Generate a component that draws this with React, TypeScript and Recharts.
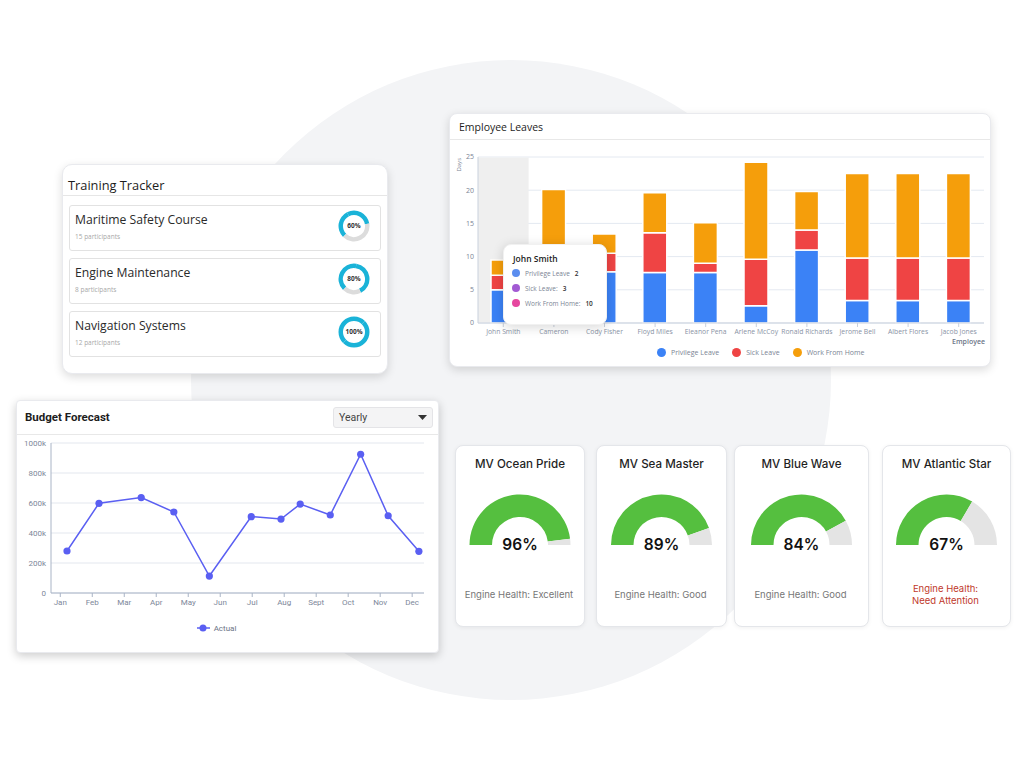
import React from 'react';
import {
  BarChart, Bar, XAxis, YAxis, CartesianGrid, Tooltip, Legend,
  LineChart, Line, PieChart, Pie, Cell,
} from 'recharts';

// ---------- Employee Leaves ----------
const employees = ['John Smith', 'Cameron', 'Cody Fisher', 'Floyd Miles', 'Eleanor Pena', 'Arlene McCoy', 'Ronald Richards', 'Jerome Bell', 'Albert Flores', 'Jacob Jones'];
const privilegeLeave = [5, 7.5, 7.7, 7.6, 7.6, 2.6, 11, 3.4, 3.4, 3.4];
const sickLeave = [2.2, 3.5, 2.8, 6, 1.4, 7, 3, 6.4, 6.4, 6.4];
const workFromHome = [2.3, 9.1, 2.9, 6, 6.1, 14.6, 5.8, 12.7, 12.7, 12.7];
const leaveSeries = ['Privilege Leave', 'Sick Leave', 'Work From Home'];
const leaveColors = ['#3b82f6', '#ef4444', '#f59e0b'];
const leaveTicks = [0, 5, 10, 15, 20, 25];
const tooltipLabels = ['Privilege Leave', 'Sick Leave:', 'Work From Home:'];
const tooltipValues = [2, 3, 10];
const tooltipColors = ['#5b8def', '#a25ad3', '#e6479f'];

// ---------- Budget Forecast ----------
const months = ['Jan', 'Feb', 'Mar', 'Apr', 'May', 'Jun', 'Jul', 'Aug', 'Sept', 'Oct', 'Nov', 'Dec'];
const budgetMonthPos = [0.21, 1.21, 2.53, 3.55, 4.66, 5.97, 6.9, 7.5, 8.44, 9.39, 10.25, 11.21];
const budgetActual = [280, 598, 636, 540, 113, 509, 493, 593, 520, 925, 515, 278];
const budgetTicks = [0, 200, 400, 600, 800, 1000];

// ---------- Training Tracker ----------
const trainings = ['Maritime Safety Course', 'Engine Maintenance', 'Navigation Systems'];
const trainingParticipants = [15, 8, 12];
const trainingProgress = [60, 80, 100];

// ---------- Engine health ----------
const vessels = ['MV Ocean Pride', 'MV Sea Master', 'MV Blue Wave', 'MV Atlantic Star'];
const engineHealth = [96, 89, 84, 67];
const healthStatus = ['Engine Health: Excellent', 'Engine Health: Good', 'Engine Health: Good', 'Engine Health: Need Attention'];
const healthAlert = [false, false, false, true];

const FP = '"Open Sans", sans-serif';
const FR = 'Roboto, sans-serif';
const FD = 'Inter, sans-serif';

const leaveData = employees.map((name, i) => ({
  name,
  [leaveSeries[0]]: privilegeLeave[i],
  [leaveSeries[1]]: sickLeave[i],
  [leaveSeries[2]]: workFromHome[i],
}));
const budgetData = budgetMonthPos.map((x, i) => ({ x, Actual: budgetActual[i] }));

const cardStyle: React.CSSProperties = {
  position: 'absolute', background: '#fff', borderRadius: 8,
  border: '1px solid #e9eaee', boxSizing: 'border-box',
  boxShadow: '0 3px 10px rgba(0,0,0,0.14)',
};

const ZERO = { top: 0, right: 0, bottom: 0, left: 0 };

function EmpTooltip({ label }: any) {
  return (
    <div style={{ width: 104, height: 81, background: '#fff', borderRadius: 8, boxShadow: '0 2px 12px rgba(0,0,0,0.16)', fontFamily: FP, position: 'relative', boxSizing: 'border-box', border: '1px solid #f1f1f1' }}>
      <div style={{ position: 'absolute', left: 9, top: 7, fontSize: 8.5, fontWeight: 600, color: '#222', lineHeight: '13px' }}>{label}</div>
      {tooltipLabels.map((l, i) => (
        <div key={l} style={{ position: 'absolute', left: 8, top: 23 + i * 15, height: 10, display: 'flex', alignItems: 'center', fontSize: 6.5, color: '#7b8494', whiteSpace: 'nowrap' }}>
          <span style={{ width: 8, height: 8, borderRadius: 4, background: tooltipColors[i], marginRight: 5, display: 'inline-block' }} />
          <span>{l}</span>
          <span style={{ marginLeft: 5, color: '#333', fontWeight: 600 }}>{tooltipValues[i]}</span>
        </div>
      ))}
    </div>
  );
}

function LeaveLegend({ payload }: any) {
  return (
    <div style={{ display: 'flex', alignItems: 'center', paddingLeft: 208, fontFamily: FP, fontSize: 7, color: '#7b8494', height: 12 }}>
      {(payload || []).map((p: any) => (
        <div key={p.value} style={{ display: 'flex', alignItems: 'center', marginRight: 13 }}>
          <span style={{ width: 9, height: 9, borderRadius: 5, background: p.color, marginRight: 5, display: 'inline-block' }} />
          <span>{p.value}</span>
        </div>
      ))}
    </div>
  );
}

function BudgetLegend({ payload }: any) {
  return (
    <div style={{ display: 'flex', justifyContent: 'center', alignItems: 'center', fontFamily: FR, fontSize: 8, color: '#6b7486', height: 12, paddingRight: 22 }}>
      {(payload || []).map((p: any) => (
        <div key={p.value} style={{ display: 'flex', alignItems: 'center' }}>
          <svg width={13} height={8} style={{ marginRight: 4 }}>
            <line x1={0} y1={4} x2={13} y2={4} stroke={p.color} strokeWidth={1.5} />
            <circle cx={6} cy={4} r={3.5} fill={p.color} />
          </svg>
          <span>{p.value}</span>
        </div>
      ))}
    </div>
  );
}

function Donut({ pct }: { pct: number }) {
  // progress arc split in two halves so that a full ring never becomes a single 360° sector
  const data = [
    { v: pct / 2, c: '#1ab3d8' },
    { v: pct / 2, c: '#1ab3d8' },
    { v: 100 - pct, c: '#dcdcdc' },
  ].filter((d) => d.v > 0);
  return (
    <div style={{ position: 'relative', width: 34, height: 34 }}>
      <PieChart width={34} height={34} margin={ZERO}>
        <Pie data={data} dataKey="v" cx="50%" cy="50%" innerRadius={11} outerRadius={15.5} startAngle={225} endAngle={-135} stroke="none" isAnimationActive={false}>
          {data.map((d, k) => <Cell key={k} fill={d.c} />)}
        </Pie>
      </PieChart>
      <div style={{ position: 'absolute', left: 0, top: 0, width: 34, height: 34, display: 'flex', alignItems: 'center', justifyContent: 'center', fontFamily: FP, fontSize: 6.5, fontWeight: 700, color: '#333' }}>{pct}%</div>
    </div>
  );
}

const gaugeCards = [
  { left: 455, width: 130 },
  { left: 596, width: 131 },
  { left: 734, width: 135 },
  { left: 882, width: 129 },
];

function GaugeCard({ i }: { i: number }) {
  const { left, width } = gaugeCards[i];
  const val = engineHealth[i];
  const data = [{ v: val }, { v: 100 - val }];
  const alert = healthAlert[i];
  const status = alert ? healthStatus[i].replace(': ', ':\n') : healthStatus[i];
  return (
    <div style={{ ...cardStyle, left, top: 445, width, height: 182, boxShadow: '0 1px 4px rgba(0,0,0,0.06)', border: '1px solid #e4e6ea' }}>
      <div style={{ position: 'absolute', left: 0, right: 0, top: 9, textAlign: 'center', fontFamily: FD, fontSize: 11.6, fontWeight: 500, color: '#1f1f1f', lineHeight: '18px' }}>{vessels[i]}</div>
      <div style={{ position: 'absolute', left: -1, top: 29 }}>
        <PieChart width={width} height={72} margin={ZERO}>
          <Pie data={data} dataKey="v" cx={width / 2} cy={70} innerRadius={28} outerRadius={50.5} startAngle={180} endAngle={0} stroke="none" isAnimationActive={false}>
            <Cell fill="#55bf3f" />
            <Cell fill="#e4e4e4" />
          </Pie>
        </PieChart>
      </div>
      <div style={{ position: 'absolute', left: 0, right: 0, top: 89, textAlign: 'center', fontFamily: FD, fontSize: 15.5, fontWeight: 600, color: '#111', lineHeight: '20px' }}>{val}%</div>
      <div style={{ position: 'absolute', left: -1, right: 1, top: alert ? 137 : 143, textAlign: 'center', whiteSpace: 'pre-line', fontFamily: FD, fontSize: 9.5, color: alert ? '#c0392b' : '#777', lineHeight: '12px' }}>{status}</div>
    </div>
  );
}

export default function App() {
  return (
    <div style={{ position: 'absolute', left: 0, top: 0, width: 1024, height: 759, background: '#fff', overflow: 'hidden', fontFamily: FP }}>
      {/* background circle */}
      <div style={{ position: 'absolute', left: 191, top: 60, width: 640, height: 640, borderRadius: '50%', background: '#f3f4f6' }} />

      {/* Training Tracker */}
      <div style={{ ...cardStyle, left: 62, top: 164, width: 326, height: 210, borderRadius: 10 }}>
        <div style={{ position: 'absolute', left: 5, top: 11, fontSize: 12.8, fontWeight: 500, color: '#1d1d1d', lineHeight: '19px' }}>Training Tracker</div>
        <div style={{ position: 'absolute', left: 0, right: 0, top: 30, height: 1, background: '#e6e6e6' }} />
        {trainings.map((t, i) => (
          <div key={t} style={{ position: 'absolute', left: 6, top: 39.5 + i * 53, width: 312, height: 46, border: '1px solid #e2e2e2', borderRadius: 3, boxSizing: 'border-box' }}>
            <div style={{ position: 'absolute', left: 5, top: 6, fontSize: 12.2, color: '#2a2a2a', lineHeight: '16px', whiteSpace: 'nowrap' }}>{t}</div>
            <div style={{ position: 'absolute', left: 5, top: 26, fontSize: 6.5, color: '#a8a8a8', lineHeight: '10px', whiteSpace: 'nowrap' }}>{trainingParticipants[i]} participants</div>
            <div style={{ position: 'absolute', left: 267, top: 3 }}>
              <Donut pct={trainingProgress[i]} />
            </div>
          </div>
        ))}
      </div>

      {/* Employee Leaves */}
      <div style={{ ...cardStyle, left: 449, top: 113, width: 542, height: 254 }}>
        <div style={{ position: 'absolute', left: 9, top: 5, fontSize: 10.5, fontWeight: 500, color: '#1d1d1d', lineHeight: '16px' }}>Employee Leaves</div>
        <div style={{ position: 'absolute', left: 0, right: 0, top: 25, height: 1, background: '#e8e8e8' }} />
      </div>
      <div style={{ position: 'absolute', left: 449, top: 140 }}>
        <BarChart width={542} height={227} data={leaveData} margin={{ top: 17, right: 7, bottom: 24, left: 0 }} barSize={24}>
          <CartesianGrid vertical={false} stroke="#e4e9f1" />
          <XAxis dataKey="name" height={20} interval={0} tickLine={{ stroke: '#c9d1dd' }} tickSize={4} axisLine={{ stroke: '#c9d1dd' }}
            tick={{ fontSize: 6.8, fill: '#8a93a5', fontFamily: FP }} tickMargin={2}
            label={{ value: 'Employee', position: 'insideBottomRight', offset: -1, style: { fontSize: 7, fontWeight: 600, fill: '#6b7486', fontFamily: FP } }} />
          <YAxis width={29} domain={[0, 25]} ticks={leaveTicks} tickLine={false} tickSize={4} axisLine={{ stroke: '#c9d1dd' }}
            tick={{ fontSize: 7, fill: '#7b8494', fontFamily: FP }} tickMargin={0}
            label={({ viewBox }: any) => (
              <text x={viewBox.x + 12} y={viewBox.y + 1} transform={`rotate(-90 ${viewBox.x + 12} ${viewBox.y + 1})`} textAnchor="end" fontSize={6} fill="#7b8494" fontFamily={FP}>Days</text>
            )} />
          <Tooltip defaultIndex={0} active cursor={{ fill: '#efefef' }} position={{ x: 54, y: 104 }} content={<EmpTooltip />} isAnimationActive={false} />
          <Legend verticalAlign="middle" align="center" wrapperStyle={{ top: 206, left: 0, width: 542, height: 12 }} content={<LeaveLegend />} />
          {leaveSeries.map((s, i) => (
            <Bar key={s} dataKey={s} stackId="a" fill={leaveColors[i]} stroke="#fff" strokeWidth={1.5} isAnimationActive={false} />
          ))}
        </BarChart>
      </div>

      {/* Budget Forecast */}
      <div style={{ ...cardStyle, left: 16, top: 400, width: 423, height: 253, borderRadius: 4, boxShadow: '0 3px 10px rgba(0,0,0,0.2)' }}>
        <div style={{ position: 'absolute', left: 8, top: 8, fontFamily: FR, fontSize: 11.5, fontWeight: 700, color: '#1d1d1d', lineHeight: '17px' }}>Budget Forecast</div>
        <div style={{ position: 'absolute', left: 316, top: 6, width: 100, height: 21, background: '#f4f4f5', border: '1px solid #e4e4e7', borderRadius: 3, boxSizing: 'border-box' }}>
          <div style={{ position: 'absolute', left: 5, top: 3, fontFamily: FR, fontSize: 10.5, color: '#444', lineHeight: '14px' }}>Yearly</div>
          <svg width={9} height={6} style={{ position: 'absolute', right: 5, top: 7 }}><path d="M0,0 L9,0 L4.5,5 Z" fill="#333" /></svg>
        </div>
        <div style={{ position: 'absolute', left: 0, right: 0, top: 33, height: 1, background: '#e8e8e8' }} />
      </div>
      <div style={{ position: 'absolute', left: 16, top: 436 }}>
        <LineChart width={423} height={210} data={budgetData} margin={{ top: 7, right: 15, bottom: 33, left: 0 }}>
          <CartesianGrid vertical={false} stroke="#e3e7ee" />
          <XAxis dataKey="x" type="number" domain={[-0.29, 11.37]} allowDataOverflow ticks={months.map((_, i) => i)}
            tickFormatter={(v: number) => months[v]} height={20} tickLine={{ stroke: '#a9b4c6' }} tickSize={4}
            axisLine={{ stroke: '#a9b4c6' }} tick={{ fontSize: 8, fill: '#7d879a', fontFamily: FR }} tickMargin={2} />
          <YAxis width={35} domain={[0, 1000]} ticks={budgetTicks} tickFormatter={(v: number) => (v === 0 ? '0' : `${v}k`)}
            tickLine={false} tickSize={5} axisLine={{ stroke: '#a9b4c6' }} tick={{ fontSize: 8, fill: '#7d879a', fontFamily: FR }} tickMargin={0} />
          <Legend verticalAlign="middle" align="center" wrapperStyle={{ top: 186, left: 0, width: 423, height: 12 }} content={<BudgetLegend />} />
          <Line dataKey="Actual" stroke="#5a5ff2" strokeWidth={1.5} dot={{ r: 3.6, fill: '#5a5ff2', stroke: '#5a5ff2', strokeWidth: 0 }} isAnimationActive={false} />
        </LineChart>
      </div>

      {/* Engine health gauges */}
      {vessels.map((v, i) => <GaugeCard key={v} i={i} />)}
    </div>
  );
}
